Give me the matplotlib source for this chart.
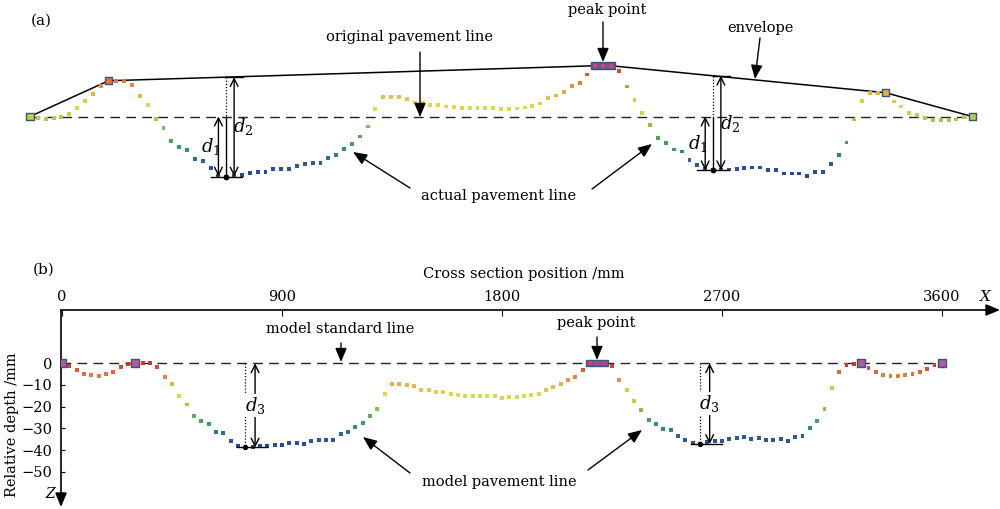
import numpy as np
import matplotlib
matplotlib.use("Agg")
import matplotlib.pyplot as plt
from matplotlib.colors import LinearSegmentedColormap
from matplotlib.patches import Rectangle, FancyArrowPatch

# ---------------- data ----------------
# transverse sampling grid (mm), one reading every 30 mm
positions_mm = np.arange(0, 3601, 30)

# panel (b): model pavement line, relative depth (mm)
model_depth = [
    0, -1.2, -3.2, -4.8, -5.4, -5.8, -4.9, -4.1, -1.8, -0.3,
    0, 0, 0, -1.8, -6.1, -9.7, -15.2, -19.0, -24.1, -26.6,
    -27.8, -31.8, -32.3, -35.6, -38.1, -38.8, -38.4, -38.2, -38.1, -37.8,
    -37.6, -36.7, -36.7, -37.2, -35.8, -35.2, -35.2, -35.2, -32.6, -31.8,
    -29.5, -27.5, -24.4, -20.9, -14.0, -9.5, -9.5, -9.8, -10.4, -12.4,
    -12.4, -13.4, -13.4, -14.1, -14.4, -15.1, -15.1, -14.9, -14.9, -15.2,
    -15.8, -15.5, -15.5, -15.2, -14.6, -14.3, -12.3, -11.1, -9.7, -7.5,
    -6.5, -3.2, 0, 0, 0, -1.1, -7.5, -12.4, -17.5, -21.4,
    -26.0, -28.1, -30.4, -30.9, -33.3, -35.3, -36.7, -37.2, -36.3, -35.9,
    -35.6, -34.7, -34.4, -34.1, -34.9, -34.6, -35.2, -35.3, -35.0, -35.8,
    -34.1, -33.6, -29.8, -26.6, -21.2, -11.2, -4.1, -0.9, -0.3, 0,
    -2.0, -4.0, -5.5, -5.7, -6.0, -5.5, -4.9, -3.8, -2.5, -0.9,
    0,
]

# panel (a): actual pavement line, height relative to the original pavement line
actual_height = [
    0, -0.5, -1.0, -0.5, -0.3, 0.9, 3.3, 6.1, 9.0, 12.3,
    14.3, 14.3, 14.3, 12.6, 8.3, 4.6, -1.0, -4.5, -9.7, -12.1,
    -13.3, -17.0, -17.7, -20.7, -23.7, -24.0, -23.9, -23.5, -22.5, -22.3,
    -22.2, -20.9, -20.9, -20.9, -19.7, -18.9, -18.7, -18.6, -16.6, -15.3,
    -13.1, -11.1, -8.0, -4.0, 2.9, 7.7, 7.7, 7.7, 7.1, 5.6,
    5.6, 4.7, 4.7, 4.0, 3.7, 3.3, 3.3, 3.3, 3.3, 3.3,
    2.9, 3.1, 3.2, 3.6, 4.3, 5.2, 7.3, 8.4, 9.9, 12.3,
    13.5, 16.8, 20.3, 20.3, 20.3, 18.3, 12.0, 6.5, 1.3, -3.3,
    -8.7, -10.7, -13.2, -14.0, -17.3, -19.5, -21.1, -21.5, -21.2, -21.2,
    -20.9, -20.7, -20.4, -20.4, -21.3, -21.3, -22.8, -22.8, -22.8, -23.9,
    -22.3, -22.3, -19.1, -15.5, -10.4, -1.2, 6.3, 9.3, 9.3, 9.5,
    6.0, 4.0, 1.3, 0.7, -0.7, -1.3, -1.5, -1.5, -1.2, -0.1,
    0,
]

peak_single = [0, 10, 109, 120]       # isolated peak points
peak_group = [72, 73, 74]             # central peak points
envelope_idx = [0, 10, 72, 74, 109, 120]
bottom_idx = [25, 87]                 # points used for d1 / d2 / d3

x_ticks = [0, 900, 1800, 2700, 3600]
y_ticks = [0, -10, -20, -30, -40, -50]
y_ticklabels = ["0", "\u221210", "\u221220", "\u221230", "\u221240", "\u221250"]

# ---------------- style ----------------
plt.rcParams["font.family"] = ["DejaVu Serif"]
plt.rcParams["mathtext.fontset"] = "dejavuserif"
FS = 10.5

cmap = LinearSegmentedColormap.from_list(
    "pave",
    [(0.0, "#27449b"), (0.12, "#2d5b98"), (0.22, "#2f8a82"), (0.35, "#4fa75c"),
     (0.5, "#a7c64b"), (0.62, "#dcdc4c"), (0.75, "#e7b244"), (0.86, "#e5793a"),
     (1.0, "#d62f2c")])

W, H = 1000, 509
fig = plt.figure(figsize=(W / 100, H / 100), dpi=100)


def rect(x0, y0, x1, y1):
    return [x0 / W, 1 - y1 / H, (x1 - x0) / W, (y1 - y0) / H]


def ftext(x, y, s, **kw):
    kw.setdefault("fontsize", FS)
    fig.text(x / W, 1 - y / H, s, ha=kw.pop("ha", "center"),
             va=kw.pop("va", "center"), **kw)


def farrow(x0, y0, x1, y1, style="-|>,head_length=0.6,head_width=0.25", ms=14, lw=1.0):
    fig.add_artist(FancyArrowPatch((x0 / W, 1 - y0 / H), (x1 / W, 1 - y1 / H),
                                   transform=fig.transFigure, arrowstyle=style,
                                   mutation_scale=ms, lw=lw, color="black",
                                   shrinkA=0, shrinkB=0))


def darrow(ax, x, y0, y1):
    ax.add_patch(FancyArrowPatch((x, y0), (x, y1),
                                 arrowstyle="<->,head_length=0.4,head_width=0.2",
                                 mutation_scale=14, lw=1.0, color="black",
                                 shrinkA=0, shrinkB=0, clip_on=False, zorder=4))


pos = positions_mm
hb = np.array(model_depth)
ha_ = np.array(actual_height)

# ================= panel (a) =================
px_a = 0.2617   # px per mm
ax_a = fig.add_axes(rect(0, 51.5, 1000, 196.5))
ax_a.set_xlim(-30 / px_a, 970 / px_a)
ax_a.set_ylim(-32, 26)
ax_a.axis("off")

ax_a.plot([pos[0], pos[-1]], [0, 0], color="#222222", lw=1.0, ls=(0, (7, 4.5)), zorder=1)
ax_a.plot(pos[envelope_idx], ha_[envelope_idx], color="black", lw=1.1, zorder=2)
ax_a.scatter(pos, ha_, c=ha_, cmap=cmap, marker="s", s=8, linewidths=0, zorder=3)

ax_a.scatter(pos[peak_single], ha_[peak_single], c=ha_[peak_single], cmap=cmap,
             vmin=ha_.min(), vmax=ha_.max(), marker="s", s=26,
             edgecolors="#3b5578", linewidths=1.0, zorder=5)
g0, g1 = pos[peak_group[0]], pos[peak_group[-1]]
ax_a.add_patch(Rectangle((g0 - 16, ha_[peak_group[0]] - 1.3), g1 - g0 + 32, 2.6,
                         facecolor="#5b5a92", edgecolor="#3b5578", lw=1.0, zorder=5))
ax_a.scatter(pos[peak_group], ha_[peak_group], color="#d8417a", marker="s", s=7,
             linewidths=0, zorder=6)

for i in bottom_idx:
    xb, yb = pos[i], ha_[i]
    env = np.interp(xb, pos[envelope_idx], ha_[envelope_idx])
    ax_a.plot([xb, xb], [env, 0], color="black", lw=0.9, ls=(0, (1, 1.5)), zorder=4)
    ax_a.plot([xb, xb], [0, yb], color="black", lw=1.0, zorder=4)
    ax_a.plot([xb - 60, xb + 60], [yb, yb], color="black", lw=1.0, zorder=4)
    ax_a.plot([xb, xb + 65], [env, env], color="black", lw=1.0, zorder=4)
    darrow(ax_a, xb - 30, 0, yb)
    darrow(ax_a, xb + 30, env, yb)
    ax_a.scatter([xb], [yb], color="black", s=10, zorder=6)
    ax_a.text(xb - 20, yb / 2, r"$d_1$", fontsize=13, ha="right", va="center")
    ax_a.text(xb + 26, (env + yb) / 2, r"$d_2$", fontsize=13, ha="left", va="center")

ftext(41, 21, "(a)", fontsize=11)
ftext(410, 37, "original pavement line")
farrow(420, 52, 420, 117)
ftext(607, 10, "peak point")
farrow(603, 22, 603, 62)
ftext(760, 28, "envelope")
farrow(760, 38, 755, 79)
ftext(499, 196, "actual pavement line")
farrow(410, 188, 353, 152)
farrow(592, 189, 652, 144)

# ================= panel (b) =================
px_b = 0.2444   # px per mm
py_b = 2.17     # px per mm depth
ax_b = fig.add_axes(rect(61, 310, 1000, 506))
ax_b.set_xlim(-1 / px_b, 938 / px_b)
ax_b.set_ylim(-(506 - 363.3) / py_b, (363.3 - 310) / py_b)
for s in ax_b.spines.values():
    s.set_visible(False)
ax_b.patch.set_visible(False)

ax_b.xaxis.tick_top()
ax_b.set_xticks(x_ticks)
ax_b.set_xticklabels([str(v) for v in x_ticks], fontsize=FS)
ax_b.tick_params(axis="x", direction="in", length=4, width=0.8, pad=4.5)
ax_b.set_yticks(y_ticks)
ax_b.set_yticklabels(y_ticklabels, fontsize=FS)
ax_b.tick_params(axis="y", direction="in", length=3, width=0.8, pad=6.5)

ax_b.annotate("", xy=(1.0, 1.0), xytext=(0, 1.0), xycoords="axes fraction",
              arrowprops=dict(arrowstyle="-|>,head_length=0.6,head_width=0.25",
                              mutation_scale=14, lw=1.2, color="black",
                              shrinkA=0, shrinkB=0))
ax_b.annotate("", xy=(0, -0.005), xytext=(0, 1.0), xycoords="axes fraction",
              arrowprops=dict(arrowstyle="-|>,head_length=0.6,head_width=0.25",
                              mutation_scale=14, lw=1.2, color="black",
                              shrinkA=0, shrinkB=0))

ax_b.plot([ax_b.get_xlim()[0], pos[-1] + 15], [0, 0], color="#222222", lw=1.0,
          ls=(0, (7, 4.5)), zorder=1)
ax_b.scatter(pos, hb, c=hb, cmap=cmap, marker="s", s=8, linewidths=0, zorder=3)
ax_b.scatter(pos[peak_single], hb[peak_single], color="#a8609a", marker="s", s=26,
             edgecolors="#3b5578", linewidths=1.0, zorder=5)
ax_b.add_patch(Rectangle((g0 - 15, -1.3), g1 - g0 + 30, 2.6,
                         facecolor="#6a5a9c", edgecolor="#3b5578", lw=1.0, zorder=5))
ax_b.scatter(pos[peak_group], hb[peak_group], color="#e0357a", marker="s", s=7,
             linewidths=0, zorder=6)

for i in bottom_idx:
    xb, yb = pos[i], hb[i]
    ax_b.plot([xb, xb], [0, yb], color="black", lw=0.9, ls=(0, (1, 1.5)), zorder=4)
    ax_b.plot([xb - 35, xb + 90], [yb, yb], color="black", lw=1.0, zorder=4)
    darrow(ax_b, xb + 40, 0, yb)
    ax_b.scatter([xb], [yb], color="black", s=8, zorder=6)
    ax_b.text(xb + 40, yb / 2, r"$d_3$", fontsize=13, ha="center", va="center",
              zorder=7, bbox=dict(facecolor="white", edgecolor="none", pad=0.5))

ftext(44, 270, "(b)", fontsize=11)
ftext(524, 274, "Cross section position /mm")
ftext(985, 297, "X", fontsize=11, fontstyle="italic")
ftext(50, 494, "Z", fontsize=10, fontstyle="italic")
ftext(12, 425, "Relative depth /mm", rotation=90)
ftext(340, 329, "model standard line")
farrow(341, 343, 341, 362)
ftext(596, 323, "peak point")
farrow(597, 337, 597, 360)
ftext(499, 482, "model pavement line")
farrow(410, 473, 363, 437)
farrow(588, 470, 642, 430)

fig.savefig("out.png", dpi=100)
